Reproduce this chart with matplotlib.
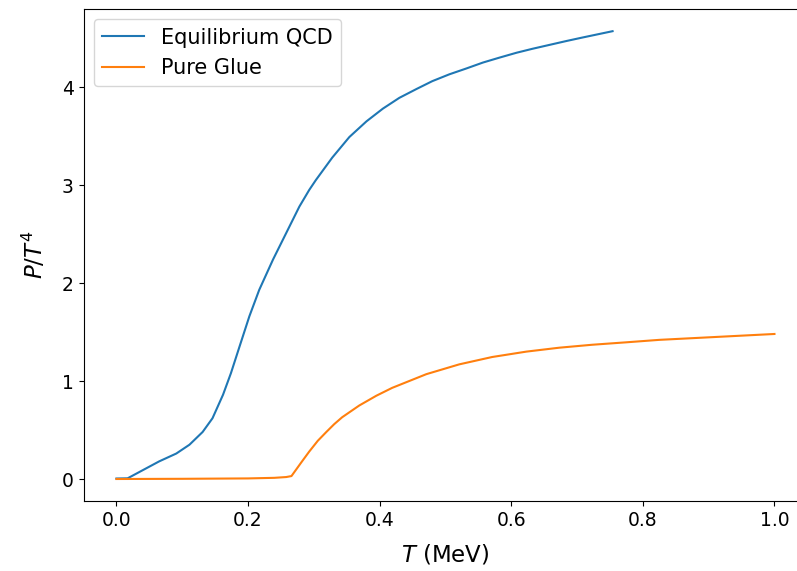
import numpy as np
import matplotlib
matplotlib.use('Agg')
import matplotlib.pyplot as plt

# Pressure over T^4 vs temperature
T_qcd = [0.0, 0.017, 0.040, 0.065, 0.091, 0.111, 0.131, 0.146, 0.162, 0.174,
         0.187, 0.202, 0.217, 0.238, 0.258, 0.278, 0.293, 0.303, 0.328, 0.354,
         0.38, 0.405, 0.43, 0.456, 0.48, 0.506, 0.532, 0.557, 0.582, 0.608,
         0.632, 0.658, 0.684, 0.708, 0.754]
P_qcd = [0.005, 0.007, 0.09, 0.18, 0.26, 0.35, 0.48, 0.62, 0.86, 1.08,
         1.35, 1.66, 1.93, 2.24, 2.51, 2.78, 2.95, 3.05, 3.28, 3.49,
         3.65, 3.78, 3.89, 3.98, 4.06, 4.13, 4.19, 4.25, 4.30, 4.35,
         4.39, 4.43, 4.47, 4.505, 4.57]

T_glue = [0.0, 0.1, 0.2, 0.24, 0.258, 0.266, 0.281, 0.293, 0.306, 0.319,
          0.331, 0.343, 0.369, 0.395, 0.419, 0.445, 0.471, 0.496, 0.521,
          0.571, 0.623, 0.673, 0.723, 0.775, 0.825, 0.927, 1.0]
P_glue = [0.0, 0.002, 0.006, 0.012, 0.02, 0.03, 0.17, 0.28, 0.39, 0.48,
          0.56, 0.63, 0.75, 0.85, 0.93, 1.00, 1.07, 1.12, 1.17,
          1.245, 1.30, 1.34, 1.37, 1.395, 1.42, 1.455, 1.48]

fig = plt.figure(figsize=(7.97, 5.71), dpi=100)
# axes run slightly past the right edge of the canvas
ax = fig.add_axes([0.1048, 0.1219, 0.9082, 0.8627])

ax.plot(T_qcd, P_qcd, color='tab:blue', linewidth=1.5, label='Equilibrium QCD')
ax.plot(T_glue, P_glue, color='tab:orange', linewidth=1.5, label='Pure Glue')

ax.set_xlabel('$T$ (MeV)', fontsize=16.5, labelpad=9)
ax.set_ylabel('$P/T^4$', fontsize=16.5, labelpad=10)
ax.tick_params(labelsize=13.5)
ax.set_yticks([0, 1, 2, 3, 4])
ax.spines['right'].set_visible(False)
ax.legend(loc='upper left', fontsize=15)

fig.savefig('out.png', dpi=100)
